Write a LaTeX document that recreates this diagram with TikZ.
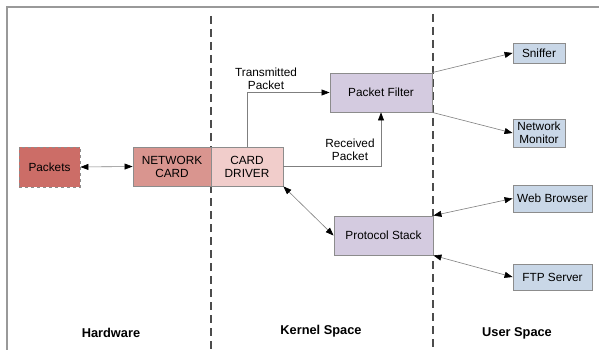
\documentclass[tikz,border=0pt]{standalone}
\usepackage{fontspec}
\setmainfont{Liberation Sans}
\usetikzlibrary{arrows.meta}
\definecolor{pktred}{HTML}{CC6D67}
\definecolor{nicred}{HTML}{D9958F}
\definecolor{drvpink}{HTML}{F1CDCB}
\definecolor{lav}{HTML}{D4CBE0}
\definecolor{ublue}{HTML}{C9D7E7}
\definecolor{bord}{HTML}{8C8C8C}
\definecolor{conn}{HTML}{7F7F7F}
\tikzset{
  box/.style={draw=bord, line width=0.9pt, inner sep=0pt, align=center,
    font=\fontsize{11.8}{13}\selectfont},
  conarrow/.style={draw=conn, line width=0.6pt, -{Triangle[length=8pt,width=6pt,color=black]}},
  biarrow/.style={draw=conn, line width=0.6pt, {Triangle[length=8pt,width=6pt,color=black]}-{Triangle[length=8pt,width=6pt,color=black]}},
  divider/.style={draw=black!70, line width=1.3pt, dash pattern=on 8pt off 5pt},
  region/.style={font=\fontsize{12.8}{14}\selectfont\bfseries},
  lbl/.style={font=\fontsize{11.8}{13}\selectfont, align=center, inner sep=0pt}
}
\begin{document}
\begin{tikzpicture}[x=1pt,y=-1pt]
\useasboundingbox (0,0) rectangle (599,350);
% frame
\draw[draw=black!40, line width=1.4pt] (7,352) -- (7,7) -- (601,7);
% dividers
\coordinate (d1t) at (211,16); \coordinate (d1b) at (211,352);
\coordinate (d2t) at (433,14); \coordinate (d2b) at (433,352);
\draw[divider] (d1t) -- (d1b);
\draw[divider] (d2t) -- (d2b);
% nodes
\node[box, dashed, fill=pktred, minimum width=61pt, minimum height=40pt] (pkt) at (49.5,167) {Packets};
\node[box, fill=nicred, minimum width=78pt, minimum height=39pt] (nic) at (172,166.5) {NETWORK\\CARD};
\node[box, fill=drvpink, minimum width=72pt, minimum height=39pt] (drv) at (247,166.5) {CARD\\DRIVER};
\node[box, fill=lav, minimum width=102pt, minimum height=39pt] (flt) at (381,92.5) {Packet Filter};
\node[box, fill=lav, minimum width=99pt, minimum height=39pt] (ps) at (383.5,235.5) {Protocol Stack};
\node[box, fill=ublue, minimum width=52pt, minimum height=20pt] (snf) at (539,53) {Sniffer};
\node[box, fill=ublue, minimum width=52pt, minimum height=28pt] (mon) at (539,133) {Network\\Monitor};
\node[box, fill=ublue, minimum width=79pt, minimum height=27pt] (web) at (552.5,198.5) {Web Browser};
\node[box, fill=ublue, minimum width=79pt, minimum height=26pt] (ftp) at (552.5,277) {FTP Server};
% connectors
\draw[biarrow] (pkt.east) -- (nic.west);
\draw[conarrow] (drv.north) |- (flt.west);
\draw[conarrow] (drv.east) -| (flt.south);
\draw[conarrow] (flt.north east) -- (snf.west);
\draw[conarrow] (flt.south east) -- (mon.west);
\draw[biarrow] (drv.south east) -- (ps.west);
\draw[biarrow] (ps.north east) -- (web.west);
\draw[biarrow] (ps.south east) -- (ftp.west);
% labels
\node[lbl] (tx) at (266,79) {Transmitted\\Packet};
\node[lbl] (rx) at (350,150) {Received\\Packet};
\node[region] (hw) at (111,333) {Hardware};
\node[region] (ks) at (321,331) {Kernel Space};
\node[region] (us) at (517,333) {User Space};
\end{tikzpicture}
\end{document}
